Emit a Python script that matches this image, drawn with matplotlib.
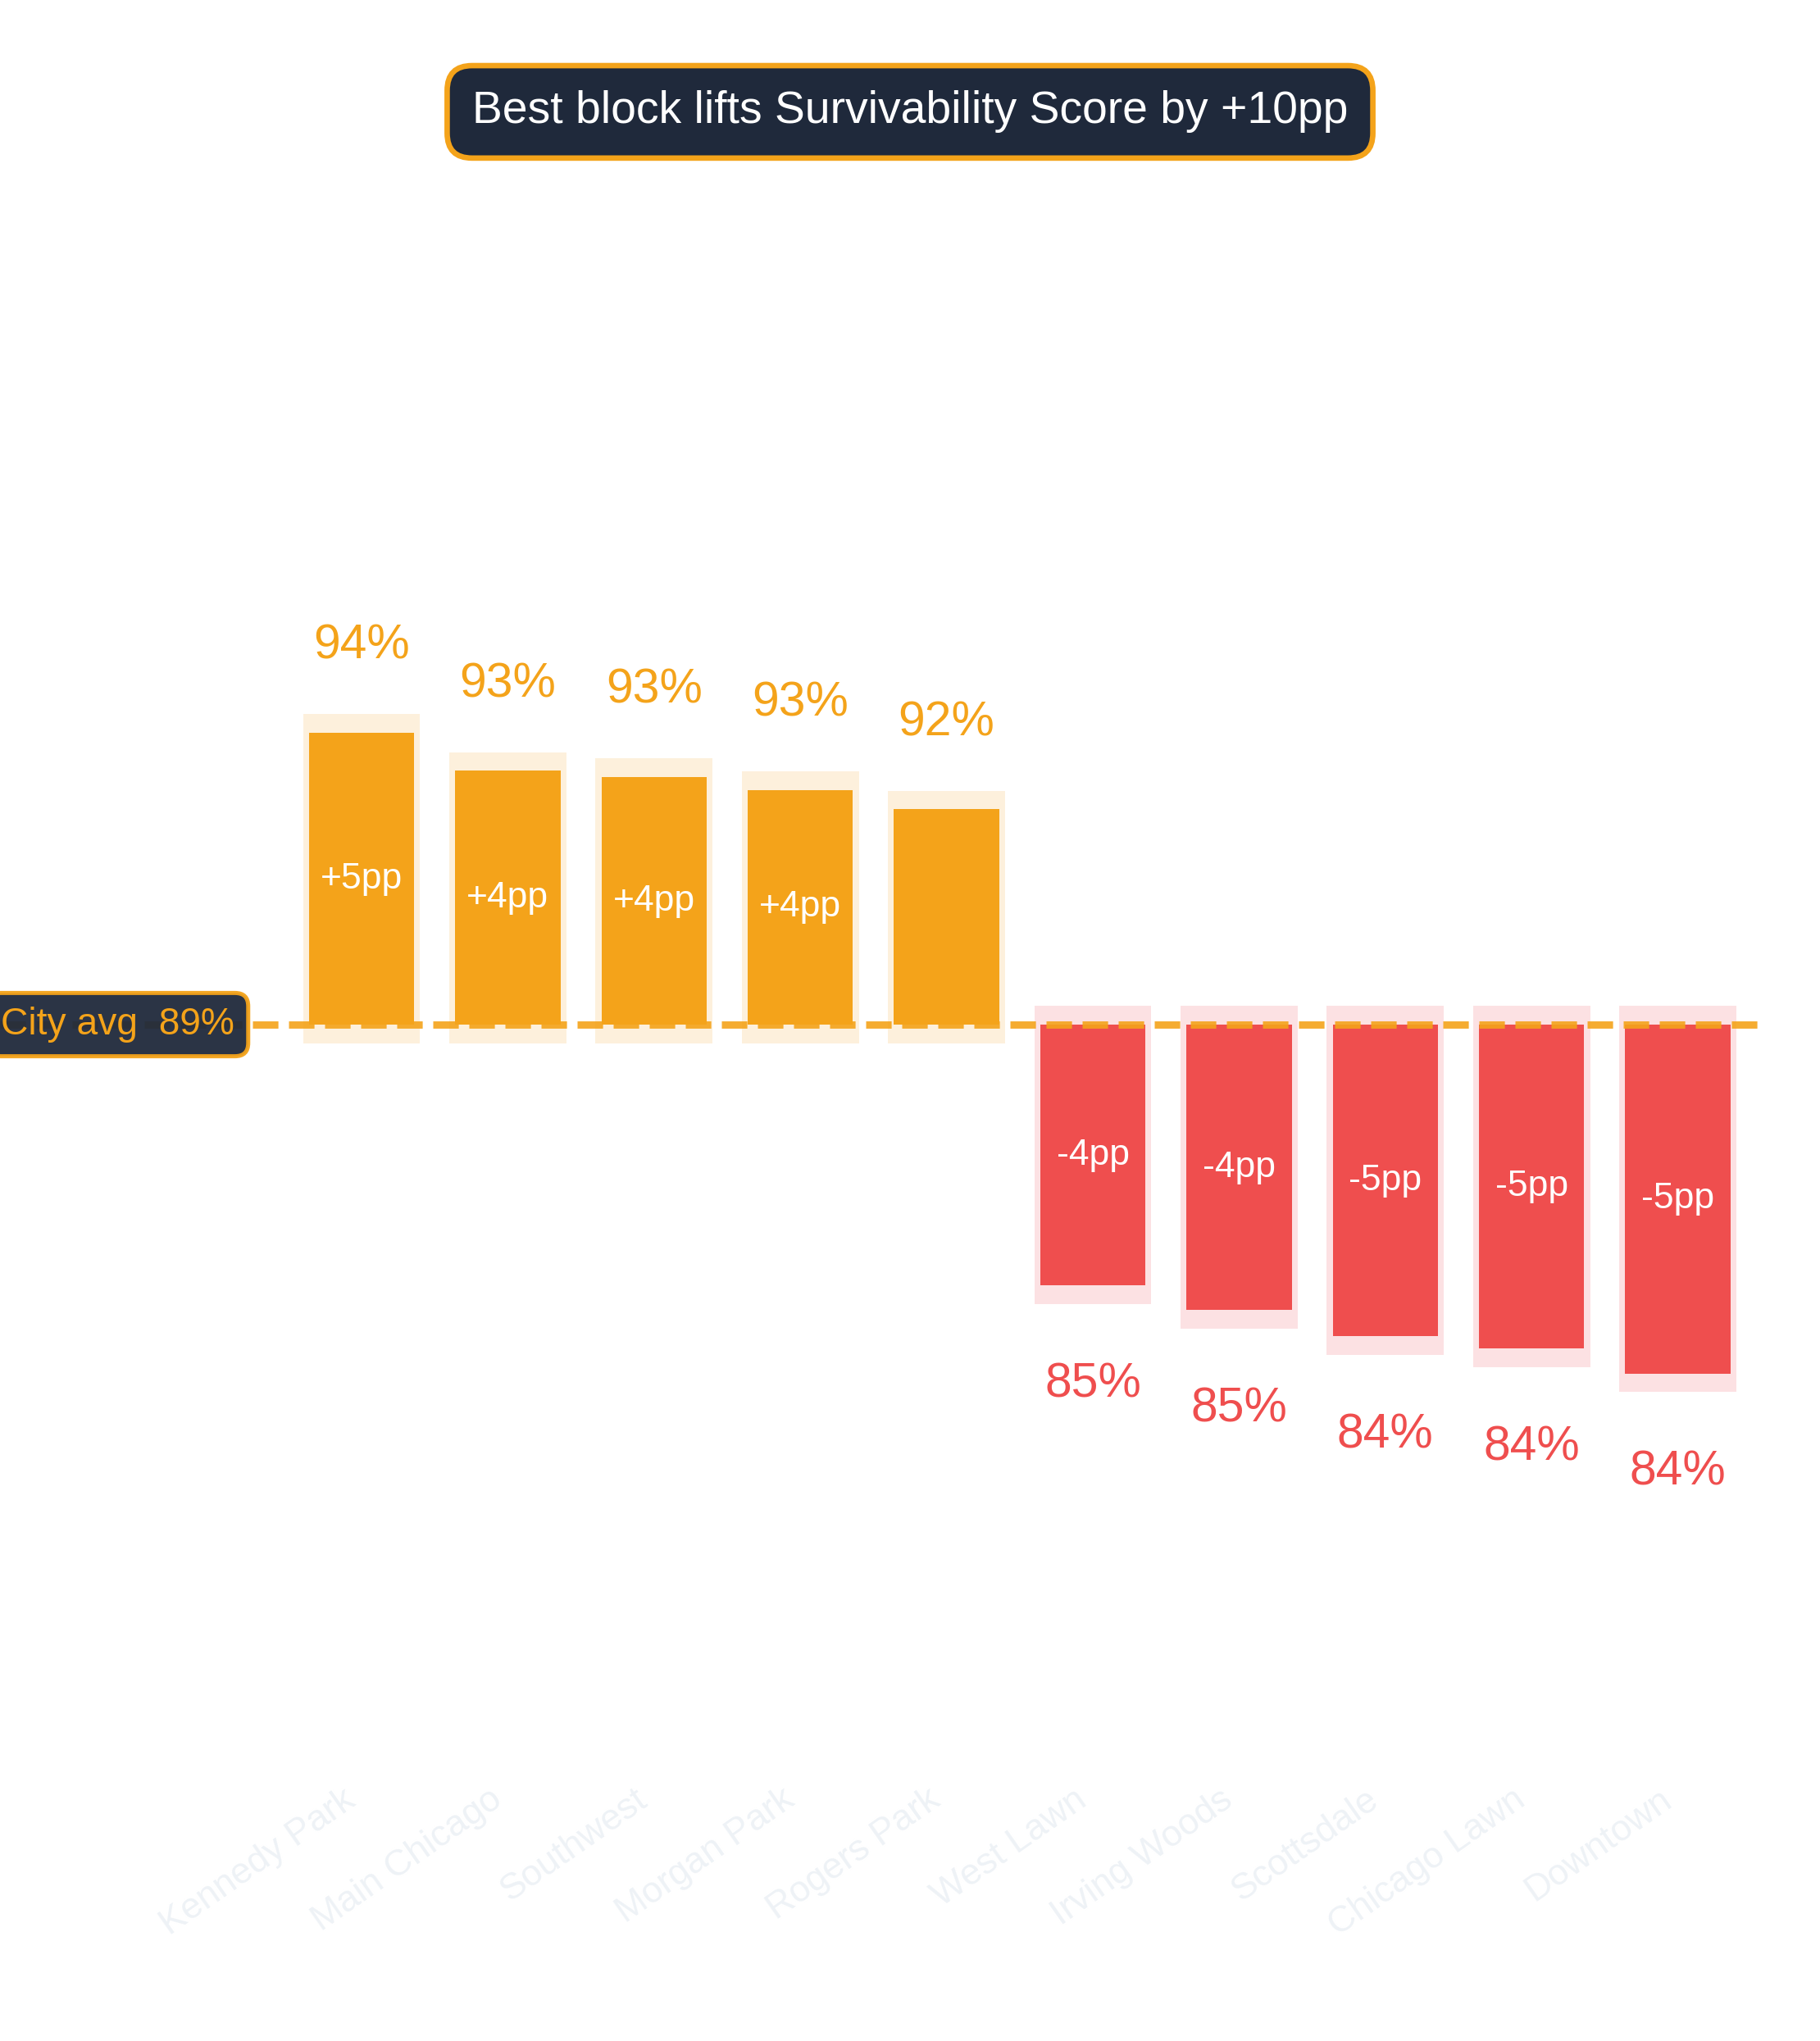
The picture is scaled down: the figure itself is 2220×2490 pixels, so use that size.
import matplotlib
matplotlib.use("Agg")
import matplotlib.pyplot as plt

plt.rcParams['font.family'] = ['Liberation Sans', 'DejaVu Sans']

# ---- data ----
neighborhoods = ["Kennedy Park", "Main Chicago", "Southwest", "Morgan Park", "Rogers Park",
                 "West Lawn", "Irving Woods", "Scottsdale", "Chicago Lawn", "Downtown"]
scores = [93.54, 92.95, 92.85, 92.65, 92.35, 84.94, 84.56, 84.15, 83.96, 83.57]
city_avg = 89.0
title_text = "Best block lifts Survivability Score by +10pp"
inner_label_min = 3.5  # only label bars with |delta| >= this

# ---- style ----
ORANGE = "#F4A31A"
ORANGE_BG = "#FDF0DC"
RED = "#EF4E4E"
RED_BG = "#FCE1E3"
DARK = "#1F293B"
TICK_COLOR = "#EEF2F6"

W, H = 2220, 2490
fig = plt.figure(figsize=(W / 200, H / 200), dpi=200)
ax_bottom_px, ax_top_px, ax_right_px = 2165, 300, 2156
avg_px, px_per_pp = 1250, 78.4
ax = fig.add_axes([0, 1 - ax_bottom_px / H, ax_right_px / W, (ax_bottom_px - ax_top_px) / H])

x = list(range(len(scores)))
deltas = [s - city_avg for s in scores]
colors = [ORANGE if d >= 0 else RED for d in deltas]
bgcolors = [ORANGE_BG if d >= 0 else RED_BG for d in deltas]

pad = 0.29
# background halo bars
for xi, d, bc in zip(x, deltas, bgcolors):
    if d >= 0:
        ax.bar(xi, d + 2 * pad, bottom=city_avg - pad, width=0.80, color=bc, zorder=1)
    else:
        ax.bar(xi, d - 2 * pad, bottom=city_avg + pad, width=0.80, color=bc, zorder=1)

# main bars
ax.bar(x, deltas, bottom=city_avg, width=0.72, color=colors, zorder=2)

# labels
for xi, s, d, c in zip(x, scores, deltas, colors):
    off = 1.15 if d >= 0 else -1.735
    ax.text(xi, s + off, f"{s:.0f}%", ha="center", va="baseline", color=c,
            fontsize=21.2, zorder=5)
    if abs(d) >= inner_label_min:
        ax.text(xi, city_avg + d / 2, f"{d:+.0f}pp", ha="center", va="center",
                color="white", fontsize=16, zorder=5)

# average line
ax.axhline(city_avg, color=ORANGE, lw=3.2, linestyle=(0, (3.5, 1.45)), alpha=0.9, zorder=4)
ax.text(-0.868, city_avg, f"City avg  {city_avg:.0f}%", ha="right", va="center",
        color=ORANGE, fontsize=16.6, zorder=6,
        bbox=dict(boxstyle="round,pad=0.36,rounding_size=0.35", fc=DARK, ec=ORANGE,
                  lw=1.8, alpha=0.95))

ax.set_xlim(-2.472, 9.613)
ax.set_ylim(city_avg - (ax_bottom_px - avg_px) / px_per_pp,
            city_avg + (avg_px - ax_top_px) / px_per_pp)
ax.set_xticks(x)
ax.set_xticklabels(neighborhoods, rotation=35, ha="right",
                   color=TICK_COLOR, fontsize=16)
ax.tick_params(axis="x", length=0, pad=3.5)
ax.set_yticks([])
for sp in ax.spines.values():
    sp.set_visible(False)
ax.patch.set_alpha(0)

fig.text(0.5, 0.9452, title_text, ha="center", va="center", color="white",
         fontsize=19.9,
         bbox=dict(boxstyle="round,pad=0.55,rounding_size=0.55", fc=DARK, ec=ORANGE, lw=2.4))

fig.savefig("out.png", dpi=200)
